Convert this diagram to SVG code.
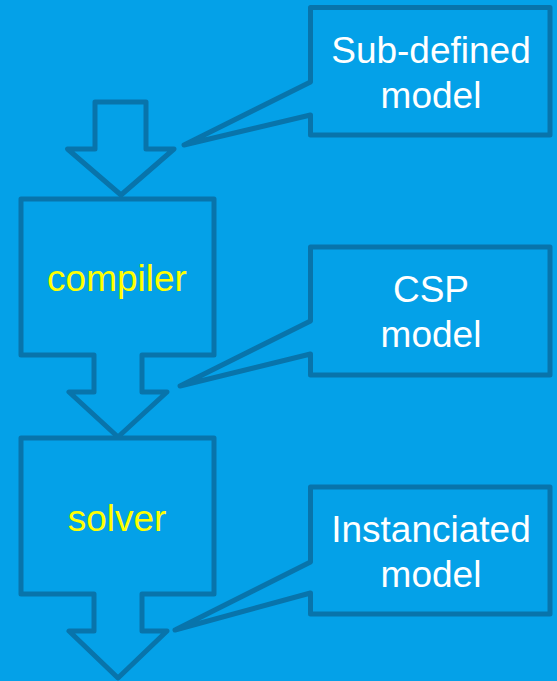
<svg xmlns="http://www.w3.org/2000/svg" width="557" height="681" viewBox="0 0 557 681">
<style>
.sh{fill:#04A1E8;stroke:#0874AB;stroke-width:5;stroke-linejoin:round}
.t{font-family:"Liberation Sans",Arial,sans-serif;font-size:37px;text-anchor:middle}
.w{fill:#FFFFFF}
.y{fill:#FFFF00}
</style>
<rect width="557" height="681" fill="#04A1E8"/>
<g id="connectors">
<path class="sh" d="M95,102 H146 V149 H174 L121,195 L67.5,149 H95 Z"/>
</g>
<g id="compiler">
<path class="sh" d="M21,199 H214 V355 H142 V392 H167 L118,437 L69,392 H94 V355 H21 Z"/>
<text class="t y" x="117" y="291">compiler</text>
</g>
<g id="solver">
<path class="sh" d="M21,438 H214 V594 H142 V631 H167 L118,678 L69,631 H94 V594 H21 Z"/>
<text class="t y" x="117" y="531">solver</text>
</g>
<g id="subdefined">
<path class="sh" d="M310.5,7.5 H550 V135 H310.5 V115 L184,145 L310.5,82 Z"/>
<text class="t w" x="431" y="63">Sub-defined</text>
<text class="t w" x="431" y="108">model</text>
</g>
<g id="csp">
<path class="sh" d="M310.5,247 H550 V375 H310.5 V354 L180,386 L310.5,321 Z"/>
<text class="t w" x="431" y="302">CSP</text>
<text class="t w" x="431" y="347">model</text>
</g>
<g id="instanciated">
<path class="sh" d="M310.5,487 H550 V614 H310.5 V593 L175,630 L310.5,562 Z"/>
<text class="t w" x="431" y="542">Instanciated</text>
<text class="t w" x="431" y="587">model</text>
</g>
</svg>
